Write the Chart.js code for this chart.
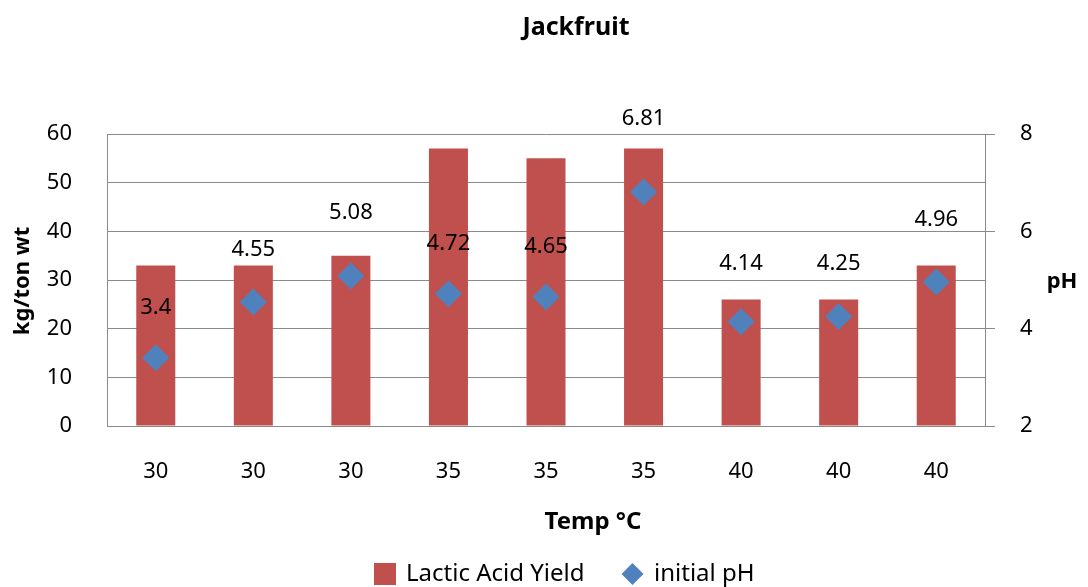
<!DOCTYPE html>
<html>
<head>
<meta charset="utf-8">
<script src="https://cdn.jsdelivr.net/npm/chart.js@4/dist/chart.umd.min.js"></script>
<style>
  html, body { margin: 0; padding: 0; background: #ffffff; }
  canvas { display: block; }
</style>
</head>
<body>
<canvas id="chart" width="1088" height="587"></canvas>
<script>
// Fermentation temperature of each run (°C)
const temps = ['30', '30', '30', '35', '35', '35', '40', '40', '40'];
// Lactic acid yield, kg per ton wet weight
const lacticYield = [33, 33, 35, 57, 55, 57, 26, 26, 33];
// Initial pH of each run
const initialPH = [3.4, 4.55, 5.08, 4.72, 4.65, 6.81, 4.14, 4.25, 4.96];
// Axis tick values
const yieldTicks = [0, 10, 20, 30, 40, 50, 60];
const phTicks = [2, 4, 6, 8];

// Vertical gap (px) between each pH marker and its value label
const phLabelLift = [50, 52, 63, 50, 50, 73, 58, 53, 62];

const FONT = '"Noto Sans", "DejaVu Sans", sans-serif';
const BAR_COLOR = '#C0504D';
const MARK_COLOR = '#4F81BD';
const AXIS_COLOR = '#8a8a8a';
const TEXT_COLOR = '#000000';

// Draws pH value labels, the title, axis titles and the legend
const annotate = {
  id: 'annotate',
  afterDatasetsDraw(chart) {
    const ctx = chart.ctx;
    const meta = chart.getDatasetMeta(1);
    ctx.save();
    ctx.font = '22px ' + FONT;
    ctx.fillStyle = TEXT_COLOR;
    ctx.textAlign = 'center';
    ctx.textBaseline = 'middle';
    meta.data.forEach((pt, i) => {
      ctx.fillText(String(initialPH[i]), pt.x, pt.y - phLabelLift[i]);
    });
    ctx.restore();
  },
  afterDraw(chart) {
    const ctx = chart.ctx;
    ctx.save();
    ctx.fillStyle = TEXT_COLOR;
    ctx.textBaseline = 'middle';
    ctx.textAlign = 'center';

    // Chart title
    ctx.font = 'bold 25px ' + FONT;
    ctx.fillText('Jackfruit', 576, 28);

    // Axis titles
    ctx.font = 'bold 24px ' + FONT;
    ctx.fillText('Temp °C', 593, 522);
    ctx.font = 'bold 22px ' + FONT;
    ctx.fillText('pH', 1062, 282);
    ctx.save();
    ctx.translate(23, 281);
    ctx.rotate(-Math.PI / 2);
    ctx.fillText('kg/ton wt', 0, 0);
    ctx.restore();

    // Legend
    const ds = chart.data.datasets;
    const cy = 574;
    ctx.font = '24px ' + FONT;
    ctx.textAlign = 'left';
    ctx.fillStyle = ds[0].backgroundColor;
    ctx.fillRect(374, cy - 11, 22, 22);
    ctx.fillStyle = TEXT_COLOR;
    ctx.fillText(ds[0].label, 406, cy);

    ctx.fillStyle = ds[1].backgroundColor;
    ctx.beginPath();
    ctx.moveTo(632.5, cy - 11);
    ctx.lineTo(643.5, cy);
    ctx.lineTo(632.5, cy + 11);
    ctx.lineTo(621.5, cy);
    ctx.closePath();
    ctx.fill();
    ctx.fillStyle = TEXT_COLOR;
    ctx.fillText(ds[1].label, 654, cy);
    ctx.restore();
  }
};

new Chart(document.getElementById('chart'), {
  data: {
    labels: temps,
    datasets: [
      {
        type: 'bar',
        label: 'Lactic Acid Yield',
        data: lacticYield,
        backgroundColor: BAR_COLOR,
        borderWidth: 0,
        categoryPercentage: 1.0,
        barPercentage: 0.4,
        yAxisID: 'y',
        order: 2
      },
      {
        type: 'line',
        label: 'initial pH',
        data: initialPH,
        showLine: false,
        pointStyle: 'rectRot',
        pointRadius: 13.5,
        pointHoverRadius: 13.5,
        pointBorderWidth: 0,
        backgroundColor: MARK_COLOR,
        borderColor: MARK_COLOR,
        yAxisID: 'y1',
        order: 1
      }
    ]
  },
  options: {
    responsive: false,
    animation: false,
    devicePixelRatio: 1,
    layout: { padding: { top: 134, bottom: 101, left: 0, right: 0 } },
    plugins: {
      legend: { display: false },
      title: { display: false },
      tooltip: { enabled: false }
    },
    scales: {
      x: {
        offset: true,
        grid: { display: false, drawTicks: false },
        border: { display: true, color: AXIS_COLOR, width: 1 },
        ticks: { padding: 33, color: TEXT_COLOR, font: { family: FONT, size: 22 } },
        afterFit(scale) { scale.height = 60; }
      },
      y: {
        position: 'left',
        min: yieldTicks[0],
        max: yieldTicks[yieldTicks.length - 1],
        afterBuildTicks(scale) { scale.ticks = yieldTicks.map(v => ({ value: v })); },
        grid: { color: AXIS_COLOR, lineWidth: 1, drawTicks: false },
        border: { display: true, color: AXIS_COLOR, width: 1 },
        ticks: { padding: 35, color: TEXT_COLOR, font: { family: FONT, size: 22 } },
        afterFit(scale) { scale.width = 107; }
      },
      y1: {
        position: 'right',
        min: phTicks[0],
        max: phTicks[phTicks.length - 1],
        afterBuildTicks(scale) { scale.ticks = phTicks.map(v => ({ value: v })); },
        grid: { drawOnChartArea: false, drawTicks: true, tickLength: 10, color: AXIS_COLOR, lineWidth: 1 },
        border: { display: true, color: AXIS_COLOR, width: 1 },
        ticks: { padding: 25, color: TEXT_COLOR, font: { family: FONT, size: 22 } },
        afterFit(scale) { scale.width = 103; }
      }
    }
  },
  plugins: [annotate]
});
</script>
</body>
</html>
